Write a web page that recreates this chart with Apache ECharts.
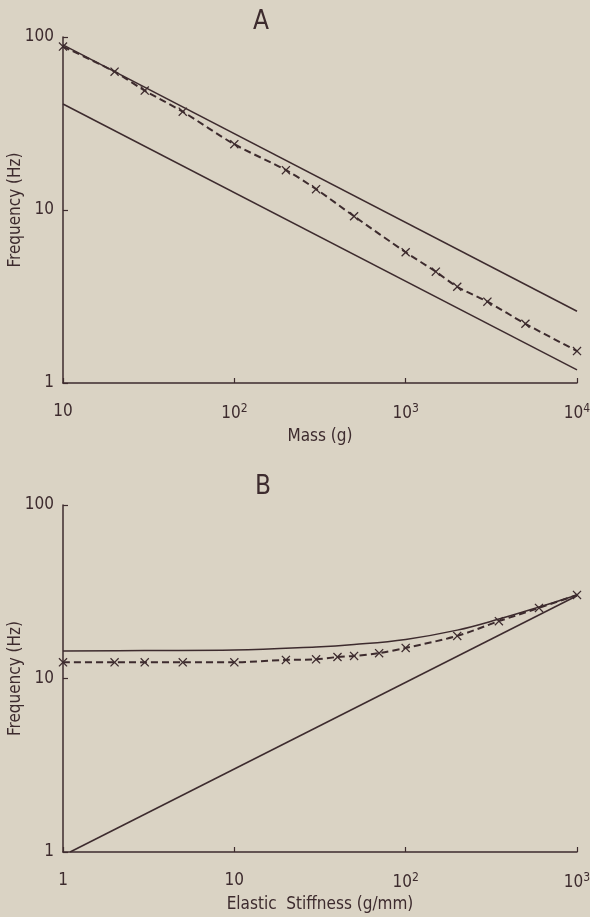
<!DOCTYPE html>
<html lang="en">

<head>
    <meta charset="UTF-8">
    <title>Frequency vs mass / stiffness</title>
    <script src="https://cdnjs.cloudflare.com/ajax/libs/echarts/6.0.0/echarts.min.js"></script>
    <style>
        body { margin: 0; background: #dad3c4; }
    </style>
</head>

<body>
    <div id="main" style="width: 590px;height:917px;"></div>

    <script>
        // panel A : frequency vs mass
        var massUpper = [[10, 90], [10000, 2.6]];
        var massLower = [[10, 41], [10000, 1.19]];
        var massMeasured = [[10, 88], [20, 63], [30, 49], [50, 37], [100, 24], [200, 17], [300, 13.2],
            [500, 9.2], [1000, 5.7], [1500, 4.4], [2000, 3.6], [3000, 2.95], [5000, 2.2], [10000, 1.53]];
        var massTickLabels = ['10', '10{s|2}', '10{s|3}', '10{s|4}'];

        // panel B : frequency vs elastic stiffness
        var stiffUpper = [[1, 14.4], [3, 14.5], [10, 14.6], [30, 15.2], [50, 15.7], [100, 16.8],
            [200, 19], [350, 22], [600, 25.8], [1000, 30.3]];
        var stiffLower = [[1.1, 1], [1000, 30]];
        var stiffMeasured = [[1, 12.4], [2, 12.4], [3, 12.4], [5, 12.4], [10, 12.4], [20, 12.8], [30, 12.9],
            [40, 13.3], [50, 13.5], [70, 14], [100, 15], [200, 17.6], [350, 21.4], [600, 25.5], [1000, 30.3]];
        var stiffTickLabels = ['1', '10', '10{s|2}', '10{s|3}'];

        var freqTickLabels = { 1: '1', 10: '10', 100: '100' };

        var ink = '#3d2b2e';
        var font = '"Liberation Sans Narrow", "DejaVu Sans Condensed", sans-serif';
        var xMark = 'path://M0,1L1,0L5,4L9,0L10,1L6,5L10,9L9,10L5,6L1,10L0,9L4,5Z';

        var chart1 = echarts.init(document.getElementById('main'));

        function xAxisOpt(grid, min, max, labels, name, gap) {
            return {
                type: 'log', logBase: 10, gridIndex: grid, min: min, max: max,
                name: name, nameLocation: 'middle', nameGap: gap, nameMoveOverlap: false,
                nameTextStyle: { color: ink, fontSize: 17, fontFamily: font },
                axisLine: { lineStyle: { color: ink, width: 1.5 } },
                axisTick: { inside: true, length: 5, lineStyle: { color: ink, width: 1.2 } },
                splitLine: { show: false },
                axisLabel: {
                    color: ink, fontSize: 17, fontFamily: font, margin: 20,
                    showMinLabel: true, showMaxLabel: true,
                    formatter: function (v) {
                        return labels[Math.round(Math.log10(v) - Math.log10(min))];
                    },
                    rich: { s: { fontSize: 12, padding: [0, 0, 9, 0], color: ink, fontFamily: font } }
                }
            };
        }

        function yAxisOpt(grid) {
            return {
                type: 'log', logBase: 10, gridIndex: grid, min: 1, max: 100,
                name: 'Frequency (Hz)', nameLocation: 'middle', nameGap: 39, nameMoveOverlap: false,
                nameTextStyle: { color: ink, fontSize: 17, fontFamily: font },
                axisLine: { lineStyle: { color: ink, width: 1.5 } },
                axisTick: { inside: true, length: 5, lineStyle: { color: ink, width: 1.2 } },
                splitLine: { show: false },
                axisLabel: {
                    color: ink, fontSize: 17, fontFamily: font, margin: 9,
                    padding: [0, 0, 12, 0],
                    showMinLabel: true, showMaxLabel: true,
                    formatter: function (v) { return freqTickLabels[Math.round(v)]; }
                }
            };
        }

        function solid(data, xi) {
            return {
                type: 'line', data: data, xAxisIndex: xi, yAxisIndex: xi,
                showSymbol: false, silent: true,
                lineStyle: { color: ink, width: 1.5 }
            };
        }

        function dashed(data, xi) {
            return {
                type: 'line', data: data, xAxisIndex: xi, yAxisIndex: xi, smooth: 0.3,
                symbol: xMark, symbolSize: 9, showSymbol: true,
                itemStyle: { color: ink },
                lineStyle: { color: ink, width: 2, type: [7, 4] }
            };
        }

        var option = {
            backgroundColor: '#dad3c4',
            animation: false,
            title: [
                { text: 'A', left: 248, top: 4, textStyle: { color: ink, fontSize: 26, fontWeight: 'normal', fontFamily: font } },
                { text: 'B', left: 250, top: 469, textStyle: { color: ink, fontSize: 26, fontWeight: 'normal', fontFamily: font } }
            ],
            grid: [
                { left: 63, right: 13, top: 37, height: 346, outerBoundsMode: 'none', containLabel: false },
                { left: 63, right: 13, top: 505, height: 347, outerBoundsMode: 'none', containLabel: false }
            ],
            xAxis: [
                xAxisOpt(0, 10, 10000, massTickLabels, 'Mass (g)', 45),
                xAxisOpt(1, 1, 1000, stiffTickLabels, 'Elastic  Stiffness (g/mm)', 44)
            ],
            yAxis: [yAxisOpt(0), yAxisOpt(1)],
            series: [
                solid(massUpper, 0),
                solid(massLower, 0),
                dashed(massMeasured, 0),
                solid(stiffUpper, 1),
                solid(stiffLower, 1),
                dashed(stiffMeasured, 1)
            ]
        };
        option.series[3].smooth = 0.4;

        chart1.setOption(option);
    </script>
</body>

</html>
